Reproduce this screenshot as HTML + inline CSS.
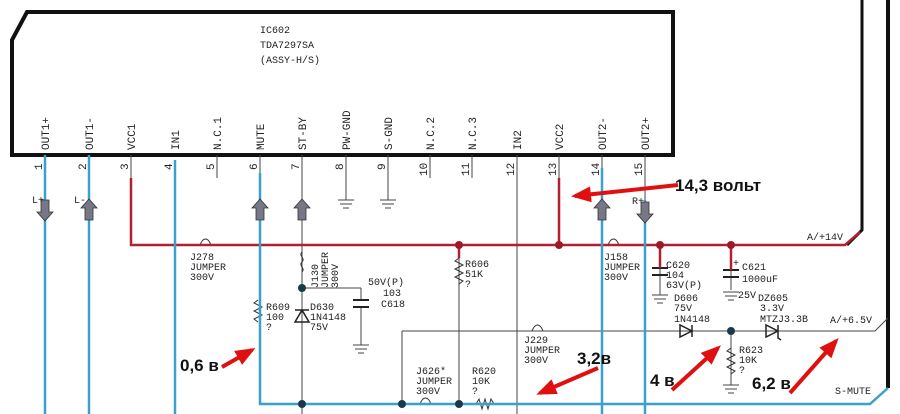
<!DOCTYPE html>
<html><head><meta charset="utf-8"><style>
html,body{margin:0;padding:0;background:#fff;width:900px;height:414px;overflow:hidden}
svg{display:block}
.t{font-family:"Liberation Mono",monospace;font-size:10px;fill:#222}
.b{font-family:"Liberation Sans",sans-serif;font-weight:bold;fill:#111}
</style></head><body>
<svg width="900" height="414" viewBox="0 0 900 414" xmlns="http://www.w3.org/2000/svg">
<defs>
<marker id="ah" markerWidth="5" markerHeight="4" refX="4" refY="2" orient="auto" markerUnits="strokeWidth"><path d="M0,0 L5,2 L0,4 z" fill="#e01010"/></marker>
</defs>
<path d="M12,155 L12,40 L27,12 L673,12 L673,155 Z" fill="none" stroke="#111" stroke-width="4"/>
<text class="t" x="260" y="33">IC602</text>
<text class="t" x="260" y="48">TDA7297SA</text>
<text class="t" x="260" y="63">(ASSY-H/S)</text>
<path d="M862,0 L862,230 L847,245" fill="none" stroke="#111" stroke-width="3"/>
<path d="M888,0 L888,388" fill="none" stroke="#111" stroke-width="4"/>
<g class="t" style="font-size:11px">
<text transform="translate(49,150) rotate(-90)">OUT1+</text>
<text transform="translate(93,150) rotate(-90)">OUT1-</text>
<text transform="translate(135,150) rotate(-90)">VCC1</text>
<text transform="translate(179,150) rotate(-90)">IN1</text>
<text transform="translate(221,150) rotate(-90)">N.C.1</text>
<text transform="translate(264,150) rotate(-90)">MUTE</text>
<text transform="translate(306,150) rotate(-90)">ST-BY</text>
<text transform="translate(350,150) rotate(-90)">PW-GND</text>
<text transform="translate(392,150) rotate(-90)">S-GND</text>
<text transform="translate(434,150) rotate(-90)">N.C.2</text>
<text transform="translate(476,150) rotate(-90)">N.C.3</text>
<text transform="translate(521,150) rotate(-90)">IN2</text>
<text transform="translate(563,150) rotate(-90)">VCC2</text>
<text transform="translate(606,150) rotate(-90)">OUT2-</text>
<text transform="translate(649,150) rotate(-90)">OUT2+</text>
</g>
<g class="t" style="font-size:11px">
<text transform="translate(42,170) rotate(-90)">1</text>
<text transform="translate(86,170) rotate(-90)">2</text>
<text transform="translate(128,170) rotate(-90)">3</text>
<text transform="translate(172,170) rotate(-90)">4</text>
<text transform="translate(214,170) rotate(-90)">5</text>
<text transform="translate(257,170) rotate(-90)">6</text>
<text transform="translate(299,170) rotate(-90)">7</text>
<text transform="translate(343,170) rotate(-90)">8</text>
<text transform="translate(385,170) rotate(-90)">9</text>
<text transform="translate(427,176) rotate(-90)">10</text>
<text transform="translate(469,176) rotate(-90)">11</text>
<text transform="translate(514,176) rotate(-90)">12</text>
<text transform="translate(556,176) rotate(-90)">13</text>
<text transform="translate(599,176) rotate(-90)">14</text>
<text transform="translate(642,176) rotate(-90)">15</text>
</g>
<g stroke="#444" stroke-width="1" fill="none">
<path d="M131,155V178M217,155V178M346,155V200M388,155V200M430,155V178M472,155V178M559,155V178M260,155V175M602,155V170M645,155V200"/>
<path d="M302,155V414M517,155V414"/>
<path d="M459,245V404M402,331V404M361,288V300"/>
<path d="M302,288H361M361,308V345"/>
<path d="M402,331H875L888,318"/>
<path d="M731,245V290M660,245V295M731,331V385"/>
<path d="M338,200H354M340,204H352M343,208H349M380,200H396M382,204H394M385,208H391M353,345H369M355,349H367M358,353H364M652,295H668M654,299H666M657,303H663M723,292H739M725,296H737M728,300H734M723,385H739M725,389H737M728,393H734"/>
</g>
<g stroke="#222" stroke-width="2">
<path d="M353,300H369M353,307H369M652,268H668M652,275H668M723,270H739M723,277H739"/>
</g>
<g stroke="#333" stroke-width="1" fill="none">
<path d="M459,258 l-4,3 8,4 -8,4 8,4 -8,4 8,4 -4,3"/>
<path d="M731,348 l-4,3 8,4 -8,4 8,4 -8,4 8,4 -4,3"/>
<path d="M258,300 l-4,3 8,4 -8,4 8,4 -8,4 4,3"/>
<path d="M476,404 l3,-5 3,10 3,-10 3,10 3,-10 3,5"/>
<path d="M302,252 c-4,4 4,6 0,10 c-4,4 4,6 0,10"/>
<path d="M200,245 c3,-8 8,-8 11,0 M608,245 c3,-8 8,-8 11,0 M532,331 c3,-8 8,-8 11,0 M420,404 c3,-8 8,-8 11,0"/>
</g>
<g stroke="#222" stroke-width="1.5" fill="none">
<path d="M295,310H309M302,310L295,322H309Z"/>
<path d="M680,325V337L692,331ZM692,325V337"/>
<path d="M766,325V337L778,331ZM778,325V338l3,2"/>
</g>
<g stroke="#b02030" stroke-width="2.5" fill="none">
<path d="M131,178V245H845L860,232"/>
<path d="M559,178V245"/>
<path d="M459,245V258M660,245V268M731,245V270"/>
</g>
<g fill="#a01828"><circle cx="459" cy="245" r="4"/><circle cx="559" cy="245" r="4"/><circle cx="660" cy="245" r="4"/><circle cx="731" cy="245" r="4"/></g>
<g stroke="#3aa0cc" stroke-width="2.5" fill="none">
<path d="M45,155V414M89,155V414M175,160V414M602,168V414M645,200V414"/>
<path d="M260,173V404H870L888,388"/>
</g>
<g fill="#1a3a4a"><circle cx="302" cy="288" r="4"/><circle cx="302" cy="404" r="4"/><circle cx="402" cy="404" r="4"/><circle cx="459" cy="404" r="4"/><circle cx="731" cy="331" r="4"/></g>
<g fill="#778" stroke="#333" stroke-width="0.8">
<path d="M41,200h8v12h4l-8,9-8-9h4z"/>
<path d="M85,220h8v-12h4l-8-9-8,9h4z"/>
<path d="M256,220h8v-12h4l-8-9-8,9h4z"/>
<path d="M298,220h8v-12h4l-8-9-8,9h4z"/>
<path d="M598,220h8v-12h4l-8-9-8,9h4z"/>
<path d="M641,202h8v12h4l-8,9-8-9h4z"/>
</g>
<g class="t">
<text x="32" y="203">L+</text><text x="74" y="203">L-</text><text x="632" y="204">R+</text>
<text x="190" y="260">J278</text><text x="190" y="270">JUMPER</text><text x="190" y="280">300V</text>
<text transform="translate(318,288) rotate(-90)">J130</text><text transform="translate(328,288) rotate(-90)">JUMPER</text><text transform="translate(338,288) rotate(-90)">300V</text>
<text x="368" y="285">50V(P)</text><text x="383" y="296">103</text><text x="381" y="307">C618</text>
<text x="266" y="310">R609</text><text x="266" y="320">100</text><text x="266" y="330">?</text>
<text x="310" y="310">D630</text><text x="310" y="320">1N4148</text><text x="310" y="330">75V</text>
<text x="465" y="267">R606</text><text x="465" y="277">51K</text><text x="465" y="287">?</text>
<text x="416" y="374">J626*</text><text x="416" y="384">JUMPER</text><text x="416" y="394">300V</text>
<text x="472" y="374">R620</text><text x="472" y="384">10K</text><text x="472" y="394">?</text>
<text x="524" y="343">J229</text><text x="524" y="353">JUMPER</text><text x="524" y="363">300V</text>
<text x="604" y="260">J158</text><text x="604" y="270">JUMPER</text><text x="604" y="280">300V</text>
<text x="666" y="268">C620</text><text x="666" y="278">104</text><text x="666" y="288">63V(P)</text>
<text x="742" y="270">C621</text><text x="742" y="282">1000uF</text><text x="738" y="298">25V</text><text x="733" y="266">+</text>
<text x="674" y="301">D606</text><text x="674" y="311">75V</text><text x="674" y="322">1N4148</text>
<text x="758" y="301">DZ605</text><text x="760" y="311">3.3V</text><text x="760" y="322">MTZJ3.3B</text>
<text x="739" y="353">R623</text><text x="739" y="363">10K</text><text x="739" y="373">?</text>
<text x="830" y="323">A/+6.5V</text>
<text x="807" y="240">A/+14V</text>
<text x="835" y="394">S-MUTE</text>
</g>
<g stroke="#e01010" stroke-width="4" fill="none" marker-end="url(#ah)">
<path d="M678,185L575,196"/>
<path d="M222,367L252,350"/>
<path d="M598,368L540,393"/>
<path d="M672,390L718,348"/>
<path d="M790,393L836,341"/>
</g>
<text class="b" x="675" y="191" font-size="17">14,3 вольт</text>
<text class="b" x="180" y="371" font-size="17">0,6 в</text>
<text class="b" x="577" y="364" font-size="17">3,2в</text>
<text class="b" x="650" y="386" font-size="17">4 в</text>
<text class="b" x="752" y="389" font-size="17">6,2 в</text>
</svg>
</body></html>
